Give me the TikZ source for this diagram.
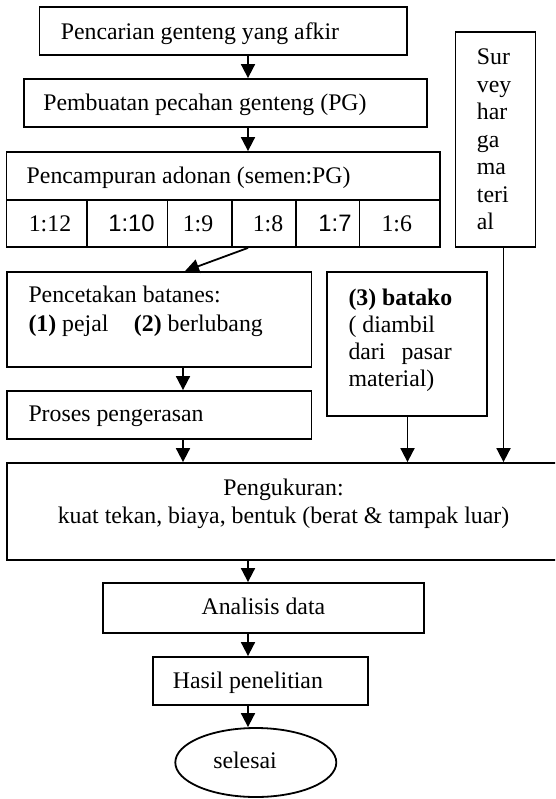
\documentclass[tikz,border=0pt]{standalone}
\usepackage{fontspec}
\setmainfont{Liberation Serif}
\newfontfamily\arialfont{Liberation Sans}
\usetikzlibrary{arrows.meta,shapes.geometric}
\begin{document}
\begin{tikzpicture}[x=1pt,y=-1pt,
  box/.style 2 args={draw,line width=1.8pt,inner sep=0pt,minimum width=#1,minimum height=#2},
  txt/.style={inner sep=0pt,font=\fontsize{23.8}{27}\selectfont},
  arr/.style={line width=1.8pt,-{Triangle[length=14pt,width=14pt]}}]
\useasboundingbox (0,0) rectangle (555,799);
\clip (0,0) rectangle (555,799);
% columns
\coordinate (cM) at (248,0);
\coordinate (cL) at (183,0);
\coordinate (cD) at (185,0);
\coordinate (cB) at (407.5,0);
\coordinate (cS) at (503.5,0);
% boxes
\node[box={367.5pt}{48pt}] (b1) at (223.25,31) {};
\node[txt,anchor=base west] (t1) at (60.7,40) {Pencarian genteng yang afkir};
\node[box={403pt}{48pt}] (b2) at (225.5,103) {};
\node[txt,anchor=base west] (t2) at (43.2,111) {Pembuatan pecahan genteng (PG)};
\node[box={433.5pt}{48pt}] (b3) at (223.25,176) {};
\node[txt,anchor=base west] (t3) at (26.5,184) {Pencampuran adonan (semen:PG)};
% ratio cells
\node[box={80.8pt}{47pt}] (r1) at (46.9,223.5) {};
\node[box={80.2pt}{47pt}] (r2) at (127.4,223.5) {};
\node[box={64.4pt}{47pt}] (r3) at (199.7,223.5) {};
\node[box={63.7pt}{47pt}] (r4) at (263.75,223.5) {};
\node[box={63.9pt}{47pt}] (r5) at (327.55,223.5) {};
\node[box={80.5pt}{47pt}] (r6) at (399.75,223.5) {};
\node[txt,anchor=base] (q1) at (50,231.5) {1:12};
\node[txt,anchor=base] (q2) at (131.5,231.5) {\arialfont 1:10};
\node[txt,anchor=base] (q3) at (198,231.5) {1:9};
\node[txt,anchor=base] (q4) at (268,231.5) {1:8};
\node[txt,anchor=base] (q5) at (335,231.5) {\arialfont 1:7};
\node[txt,anchor=base] (q6) at (396.7,231.5) {1:6};
% survey
\node[box={80pt}{215pt}] (survey) at (495.5,139.5) {};
\foreach \w [count=\i] in {Sur,vey,har,ga,ma,teri,al}
  \node[txt,anchor=base west] (s\i) at (476.7,{65+27.5*(\i-1)}) {\w};
% pencetakan
\node[box={304.5pt}{95pt}] (cetak) at (159.25,319.5) {};
\node[txt,anchor=base west] (ct1) at (28.3,302.5) {Pencetakan batanes:};
\node[txt,anchor=base west] (ct2) at (28.3,331) {\textbf{(1)} pejal\hspace{25.5pt}\textbf{(2)} berlubang};
% proses
\node[box={304.5pt}{48pt}] (proses) at (159.25,415) {};
\node[txt,anchor=base west] (pr) at (28.3,421.5) {Proses pengerasan};
% batako
\node[box={160pt}{144pt}] (batako) at (407.3,344) {};
\node[txt,anchor=base west] (bt1) at (348.3,305) {\textbf{(3) batako}};
\node[txt,anchor=base west] (bt2) at (348.3,332) {( diambil};
\node[txt,anchor=base west] (bt3) at (348.3,359) {dari\hspace{16pt}pasar};
\node[txt,anchor=base west] (bt4) at (348.3,386) {material)};
% pengukuran
\node[box={563pt}{97pt}] (ukur) at (288.5,511.5) {};
\node[txt,anchor=base] (u1) at (283.5,495) {Pengukuran:};
\node[txt,anchor=base] (u2) at (283.5,523) {kuat tekan, biaya, bentuk (berat \& tampak luar)};
% analisis
\node[box={321pt}{50pt}] (anal) at (263.2,608) {};
\node[txt,anchor=base] (an) at (263.4,614) {Analisis data};
% hasil
\node[box={215.3pt}{48pt}] (hasil) at (260.35,681) {};
\node[txt,anchor=base west] (ha) at (172.7,688) {Hasil penelitian};
% end
\node[draw,ellipse,line width=1.8pt,inner sep=0pt,minimum width=161pt,minimum height=69pt] (fin) at (255.8,762.5) {};
\node[txt,anchor=base] (se) at (245,768) {selesai};
% connectors
\draw[arr] (b1.south -| cM) -- (b2.north -| cM);
\draw[arr] (b2.south -| cM) -- (b3.north -| cM);
\draw[arr] (r4.south -| cM) -- (cetak.north -| cD);
\draw[arr] (cetak.south -| cL) -- (proses.north -| cL);
\draw[arr] (proses.south -| cL) -- (ukur.north -| cL);
\draw[arr] (batako.south -| cB) -- (ukur.north -| cB);
\draw[arr] (survey.south -| cS) -- (ukur.north -| cS);
\draw[arr] (ukur.south -| cM) -- (anal.north -| cM);
\draw[arr] (anal.south -| cM) -- (hasil.north -| cM);
\draw[arr] (hasil.south -| cM) -- (fin.north -| cM);
\end{tikzpicture}
\end{document}
